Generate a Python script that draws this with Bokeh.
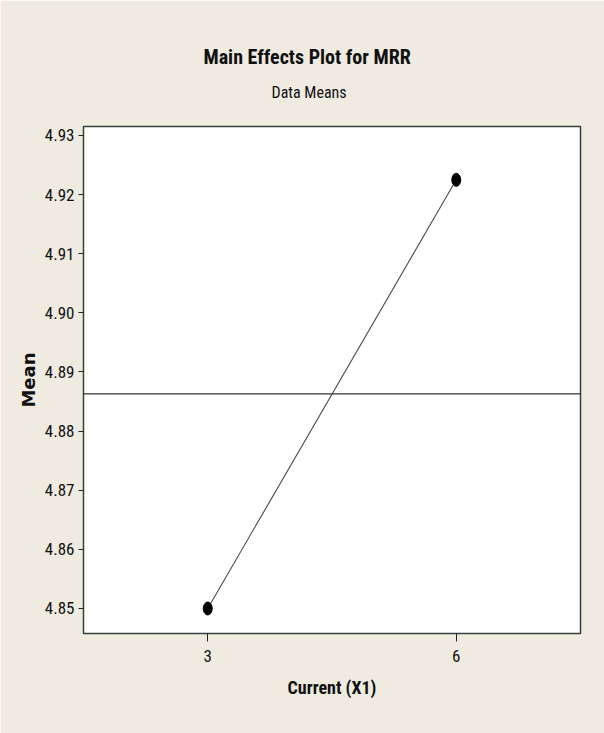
from bokeh.plotting import figure
from bokeh.models import ColumnDataSource, Span, Title, FixedTicker, PrintfTickFormatter, Range1d
from bokeh.embed import file_html
from bokeh.resources import INLINE

# ---- data ----
levels = [3, 6]
level_labels = ["3", "6"]
means = [4.8500, 4.9225]
grand_mean = 4.8863
y_ticks = [4.85, 4.86, 4.87, 4.88, 4.89, 4.90, 4.91, 4.92, 4.93]
title_text = "Main Effects Plot for MRR"
subtitle_text = "Data Means"
x_label = "Current (X1)"
y_label = "Mean"

# ---- layout constants ----
W, H = 604, 733
FL, FR, FT, FB = 83, 580, 126, 633
X0, X1 = 1.5, 7.5
Y0, Y1 = 4.84577, 4.93152
BG = "#EFEBE1"
NARROW = "Liberation Sans Narrow, Roboto Condensed, DejaVu Sans Condensed, sans-serif"

p = figure(width=W, height=H, output_backend="svg", toolbar_location=None, title=None,
           x_range=Range1d(X0, X1), y_range=Range1d(Y0, Y1),
           min_border_left=FL, min_border_right=W - FR,
           min_border_top=FT, min_border_bottom=H - FB)
p.border_fill_color = BG
p.background_fill_color = "white"
p.outline_line_color = "#3c3c3c"
p.outline_line_width = 1.5
p.xgrid.visible = False
p.ygrid.visible = False

src = ColumnDataSource(dict(x=levels, y=means))
p.line("x", "y", source=src, line_color="#4a4a4a", line_width=1.1)
p.ellipse("x", "y", source=src, width=9, height=13, width_units="screen",
          height_units="screen", fill_color="black", line_color="black")

p.add_layout(Span(location=grand_mean, dimension="width", line_color="#333333", line_width=1.3))

# axes
xa = p.xaxis[0]
xa.ticker = FixedTicker(ticks=levels)
xa.major_label_overrides = {lv: lb for lv, lb in zip(levels, level_labels)}
xa.axis_line_color = None
xa.major_tick_out = 8
xa.major_tick_in = 0
xa.minor_tick_line_color = None
xa.major_tick_line_color = "#222222"
xa.major_label_standoff = 8
xa.major_label_text_font = NARROW
xa.major_label_text_font_size = "17px"
xa.major_label_text_color = "#111111"
xa.axis_label = x_label
xa.axis_label_text_font = NARROW
xa.axis_label_text_font_style = "bold"
xa.axis_label_text_font_size = "18px"
xa.axis_label_text_color = "#111111"
xa.axis_label_standoff = 12

ya = p.yaxis[0]
ya.ticker = FixedTicker(ticks=y_ticks)
ya.formatter = PrintfTickFormatter(format="%.2f")
ya.axis_line_color = None
ya.major_tick_out = 5
ya.major_tick_in = 0
ya.minor_tick_line_color = None
ya.major_tick_line_color = "#222222"
ya.major_label_standoff = 4
ya.major_label_text_font = NARROW
ya.major_label_text_font_size = "17px"
ya.major_label_text_color = "#111111"
ya.axis_label = y_label
ya.axis_label_text_font = "DejaVu Sans"
ya.axis_label_text_font_style = "bold"
ya.axis_label_text_font_size = "18px"
ya.axis_label_text_color = "#111111"
ya.axis_label_standoff = 3

spacer = Title(text=" ", standoff=12, text_font_size="1px")
sub = Title(text=subtitle_text, align="left", offset=188, standoff=20,
            text_font=NARROW, text_font_size="16px", text_font_style="normal",
            text_color="#111111")
main = Title(text=title_text, align="left", offset=120, standoff=3,
             text_font=NARROW, text_font_size="20px", text_font_style="bold",
             text_color="#111111")
p.add_layout(spacer, "above")
p.add_layout(sub, "above")
p.add_layout(main, "above")

open("out.html", "w").write(file_html(p, INLINE))
